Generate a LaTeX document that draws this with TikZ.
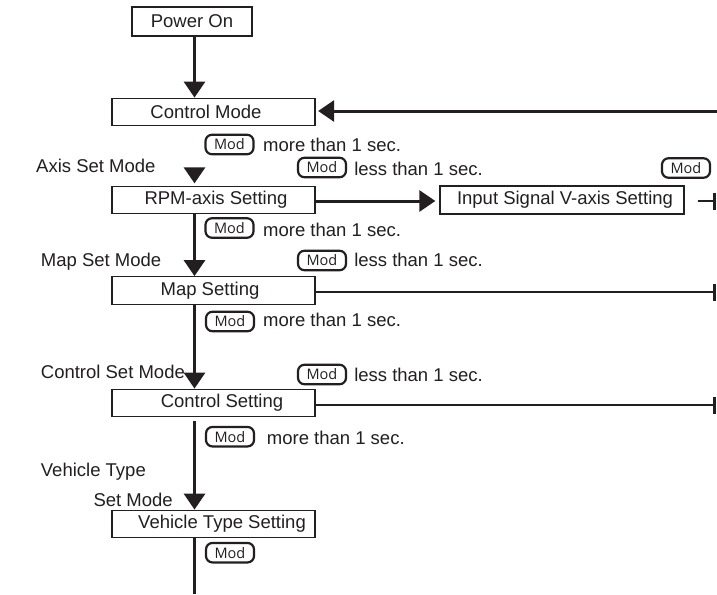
\documentclass[tikz,border=0pt]{standalone}
\usepackage{fontspec}
\setmainfont{Liberation Sans}
\newfontfamily\modfont{Open Sans}
\usetikzlibrary{arrows.meta}
\definecolor{ink}{HTML}{231F20}
\begin{document}
\begin{tikzpicture}[x=1pt,y=-1pt,
  box/.style={draw=ink,line width=1.3pt,minimum width=203pt,minimum height=27.5pt,inner sep=0pt,font=\fontsize{18.5}{20}\selectfont,text=ink},
  modbtn/.style={draw=ink,line width=2.2pt,rounded corners=6.5pt,minimum width=48pt,minimum height=19.5pt,inner sep=0pt,font=\modfont\fontsize{14.5}{15}\selectfont,text=ink},
  lbl/.style={inner sep=0pt,font=\fontsize{18.5}{20}\selectfont,text=ink},
  arr/.style={draw=ink,line width=3pt,-{Triangle[width=21pt,length=16pt]}},
  edgeline/.style={draw=ink,line width=2.8pt,-{Bar[width=17pt,line width=2.8pt]}},
]
\useasboundingbox (0,0) rectangle (717,594);
\fill[white] (0,0) rectangle (717,594);
\coordinate (sp) at (194.5,0);
% boxes
\node[box,minimum width=120pt,minimum height=29pt] (po) at (192,21.5) {Power On};
\node[box] (cm) at (213.5,112) {\hspace*{-15pt}Control Mode};
\node[box,minimum height=27pt] (rpm) at (213.5,200) {\hspace*{5pt}RPM-axis Setting};
\node[box,minimum width=244pt,minimum height=28pt] (inp) at (562,200) {\hspace*{6pt}Input Signal V-axis Setting};
\node[box] (map) at (213.5,290.5) {\hspace*{-7pt}Map Setting};
\node[box] (cs) at (213.5,403) {\hspace*{17pt}Control Setting};
\node[box] (vt) at (213.5,524) {\hspace*{17pt}Vehicle Type Setting};
% side labels
\node[lbl,anchor=base west] (l1) at (36,172) {Axis Set Mode};
\node[lbl,anchor=base west] (l2) at (40.7,266.7) {Map Set Mode};
\node[lbl,anchor=base west] (l3) at (40.7,378) {Control Set Mode};
\node[lbl,anchor=base west] (l4) at (40.7,476) {Vehicle Type};
\node[lbl,anchor=base west] (l5) at (93.3,506) {Set Mode};
% mod buttons and conditions
\node[modbtn] (m1) at (229.5,144.5) {Mod};
\node[lbl,anchor=base west] (t1) at (263,151.7) {more than 1 sec.};
\node[modbtn] (m2) at (322,167.5) {Mod};
\node[lbl,anchor=base east] (t2) at (483,175) {less than 1 sec.};
\node[modbtn] (m3) at (686,168) {Mod};
\node[modbtn] (m4) at (229.5,228) {Mod};
\node[lbl,anchor=base west] (t4) at (263,236.7) {more than 1 sec.};
\node[modbtn] (m5) at (322,260.5) {Mod};
\node[lbl,anchor=base east] (t5) at (483,266.7) {less than 1 sec.};
\node[modbtn] (m6) at (230,321.5) {Mod};
\node[lbl,anchor=base west] (t6) at (263,326.7) {more than 1 sec.};
\node[modbtn] (m7) at (322,374.5) {Mod};
\node[lbl,anchor=base east] (t7) at (483,381) {less than 1 sec.};
\node[modbtn] (m8) at (230,436.7) {Mod};
\node[lbl,anchor=base west] (t8) at (266.7,444) {more than 1 sec.};
\node[modbtn] (m9) at (230,552.7) {Mod};
% connectors
\coordinate (ret) at (717,111);
\coordinate (tri) at (194.5,168);
\coordinate (bot) at (194.5,594);
\coordinate (e1) at (715.5,201);
\coordinate (e2) at (715.5,292);
\coordinate (e3) at (715.5,405);
\draw[arr] (po.south -| sp) -- (cm.north -| sp);
\draw[arr,shorten >=2.5pt] (ret) -- (ret -| cm.east);
\draw[arr,shorten >=2.5pt] (tri) -- (rpm.north -| sp);
\draw[arr,shorten >=4pt] (rpm.east |- e1) -- (inp.west |- e1);
\draw[edgeline,shorten <=13pt] (inp.east |- e1) -- (e1);
\draw[arr] (rpm.south -| sp) -- (map.north -| sp);
\draw[edgeline] (map.east |- e2) -- (e2);
\draw[arr] (map.south -| sp) -- (cs.north -| sp);
\draw[edgeline] (cs.east |- e3) -- (e3);
\draw[arr,shorten <=4pt] (cs.south -| sp) -- (vt.north -| sp);
\draw[draw=ink,line width=3pt] (vt.south -| sp) -- (bot);
\end{tikzpicture}
\end{document}
